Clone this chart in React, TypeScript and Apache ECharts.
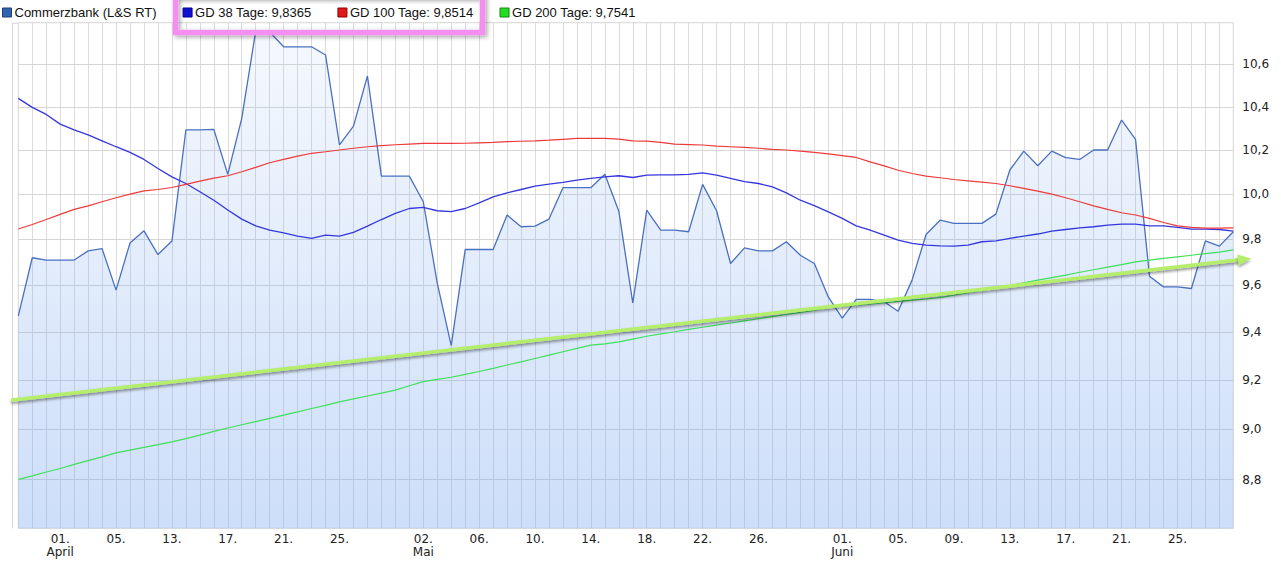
import React, { useEffect, useRef } from "react";
import * as echarts from "echarts";

const FONT = "DejaVu Sans";
const LEGEND_FONT = "Liberation Sans";

// trading-day slots (one category per vertical gridline)
const tickPositions = [3, 7, 11, 15, 19, 23, 29, 33, 37, 41, 45, 49, 53, 59, 63, 67, 71, 75, 79, 83];
const tickLabels = ["01.\nApril", "05.", "13.", "17.", "21.", "25.", "02.\nMai", "06.", "10.", "14.", "18.", "22.", "26.", "01.\nJuni", "05.", "09.", "13.", "17.", "21.", "25."];

const priceValues = [
  9.47, 9.72, 9.71, 9.71, 9.71, 9.75, 9.76, 9.58, 9.785, 9.838,
  9.734, 9.793, 10.293, 10.293, 10.296, 10.09, 10.347, 10.76, 10.755, 10.684,
  10.684, 10.684, 10.645, 10.224, 10.311, 10.545, 10.082, 10.082, 10.082, 9.967,
  9.61, 9.345, 9.756, 9.756, 9.756, 9.908, 9.856, 9.859, 9.89, 10.03,
  10.03, 10.03, 10.091, 9.925, 9.525, 9.93, 9.841, 9.841, 9.834, 10.045,
  9.927, 9.695, 9.763, 9.75, 9.75, 9.79, 9.731, 9.695, 9.551, 9.461,
  9.54, 9.54, 9.53, 9.49, 9.623, 9.822, 9.885, 9.871, 9.871, 9.871,
  9.912, 10.11, 10.196, 10.129, 10.196, 10.166, 10.158, 10.201, 10.201, 10.339,
  10.25, 9.64, 9.594, 9.594, 9.587, 9.794, 9.771, 9.834
];

const gd38Values = [
  10.44, 10.398, 10.365, 10.32, 10.293, 10.27, 10.243, 10.216, 10.19, 10.158,
  10.117, 10.079, 10.049, 10.012, 9.974, 9.93, 9.89, 9.86, 9.841, 9.829,
  9.815, 9.805, 9.819, 9.815, 9.831, 9.859, 9.888, 9.915, 9.937, 9.942,
  9.927, 9.923, 9.937, 9.962, 9.989, 10.007, 10.022, 10.037, 10.046, 10.054,
  10.064, 10.072, 10.079, 10.084, 10.076, 10.087, 10.088, 10.088, 10.09, 10.097,
  10.087, 10.072, 10.057, 10.049, 10.034, 10.007, 9.974, 9.95, 9.922, 9.893,
  9.86, 9.841, 9.819, 9.797, 9.783, 9.775, 9.772, 9.771, 9.775, 9.79,
  9.794, 9.805, 9.815, 9.824, 9.837, 9.844, 9.851, 9.856, 9.863, 9.868,
  9.868, 9.86, 9.86, 9.853, 9.846, 9.846, 9.844, 9.8365
];

const gd100Values = [
  9.846, 9.866, 9.888, 9.911, 9.933, 9.949, 9.967, 9.985, 10.001, 10.016,
  10.022, 10.031, 10.045, 10.06, 10.073, 10.084, 10.102, 10.122, 10.143, 10.158,
  10.173, 10.186, 10.193, 10.201, 10.209, 10.216, 10.221, 10.225, 10.228, 10.231,
  10.231, 10.231, 10.232, 10.234, 10.236, 10.239, 10.241, 10.243, 10.246, 10.25,
  10.254, 10.254, 10.254, 10.251, 10.243, 10.242, 10.236, 10.228, 10.226, 10.224,
  10.219, 10.216, 10.213, 10.209, 10.204, 10.201, 10.196, 10.19, 10.183, 10.175,
  10.167, 10.147, 10.129, 10.109, 10.094, 10.082, 10.075, 10.067, 10.061, 10.055,
  10.049, 10.039, 10.027, 10.015, 10.001, 9.985, 9.967, 9.949, 9.933, 9.918,
  9.908, 9.893, 9.875, 9.86, 9.853, 9.85, 9.85, 9.8514
];

const gd200Values = [
  8.801, 8.815, 8.83, 8.844, 8.86, 8.875, 8.89, 8.906, 8.917, 8.928,
  8.939, 8.95, 8.963, 8.977, 8.992, 9.006, 9.019, 9.032, 9.045, 9.058,
  9.071, 9.085, 9.098, 9.112, 9.124, 9.136, 9.148, 9.16, 9.178, 9.195,
  9.204, 9.213, 9.225, 9.237, 9.25, 9.264, 9.277, 9.291, 9.305, 9.319,
  9.333, 9.347, 9.352, 9.36, 9.372, 9.384, 9.394, 9.403, 9.413, 9.422,
  9.431, 9.44, 9.449, 9.458, 9.467, 9.476, 9.485, 9.494, 9.505, 9.51,
  9.516, 9.521, 9.526, 9.532, 9.537, 9.542, 9.548, 9.558, 9.569, 9.579,
  9.59, 9.6, 9.611, 9.623, 9.634, 9.645, 9.657, 9.668, 9.679, 9.69,
  9.702, 9.71, 9.717, 9.724, 9.731, 9.738, 9.745, 9.7541
];

const yTicks = [8.8, 9.0, 9.2, 9.4, 9.6, 9.8, 10.0, 10.2, 10.4, 10.6];

const seriesNames = [
  "Commerzbank (L&S RT)",
  "GD 38 Tage: 9,8365",
  "GD 100 Tage: 9,8514",
  "GD 200 Tage: 9,7541",
];

const categories = priceValues.map((_, i) => "d" + i);

export default function App() {
  const ref = useRef<HTMLDivElement>(null);

  useEffect(() => {
    if (!ref.current) return;
    const chart = echarts.init(ref.current, null, { renderer: "svg" });
    const labelFor = (i: number) => {
      const k = tickPositions.indexOf(i);
      return k >= 0 ? tickLabels[k] : "";
    };
    const gridLeft = 18.3;
    const gridRight = 1233.3;
    const gridTop = 22.7;
    const gridBottom = 528.3;

    const dx = 1240 - 12.5;
    const dy = 259.8 - 400;
    const len = Math.sqrt(dx * dx + dy * dy);
    const ux = dx / len;
    const uy = dy / len;
    const tipX = 1240 + 11 * ux;
    const tipY = 259.8 + 11 * uy;
    const bx = 1238;
    const by = 259.8 + (1238 - 1240) * (dy / dx);

    const option: any = {
      animation: false,
      backgroundColor: "#ffffff",
      textStyle: { fontFamily: FONT },
      legend: {
        left: 2,
        top: 6,
        padding: 0,
        itemWidth: 9,
        itemHeight: 9,
        itemGap: 26,
        selectedMode: false,
        icon: "rect",
        textStyle: { fontFamily: LEGEND_FONT, fontSize: 13, color: "#111", padding: [0, 0, 0, -2] },
        data: [
          { name: seriesNames[0], itemStyle: { color: "#3163b0", borderColor: "#1d3f7a", borderWidth: 1 } },
          { name: seriesNames[1], itemStyle: { color: "#1010d0", borderColor: "#000090", borderWidth: 1 } },
          { name: seriesNames[2], itemStyle: { color: "#e01818", borderColor: "#900000", borderWidth: 1 } },
          { name: seriesNames[3], itemStyle: { color: "#22dd22", borderColor: "#118811", borderWidth: 1 } },
        ],
      },
      grid: {
        left: gridLeft,
        right: 1281 - gridRight,
        top: gridTop,
        bottom: 563 - gridBottom,
        show: true,
        borderColor: "#d6d6d6",
        borderWidth: 1,
        backgroundColor: "transparent",
      },
      xAxis: {
        type: "category",
        data: categories,
        boundaryGap: false,
        axisLine: { show: false },
        axisTick: { show: false },
        axisLabel: {
          interval: (i: number) => tickPositions.indexOf(i) >= 0,
          formatter: (_v: string, i: number) => labelFor(i),
          fontFamily: FONT,
          fontSize: 12,
          color: "#222",
          margin: 4,
          lineHeight: 13,
        },
        splitLine: { show: true, interval: 0, lineStyle: { color: "#dcdcdc", width: 1 } },
      },
      yAxis: {
        type: "log",
        logBase: 10,
        min: 8.61,
        max: 10.8,
        position: "right",
        axisLine: { show: false },
        axisTick: { show: false },
        axisLabel: { show: false },
        splitLine: { show: false },
      },
      series: [
        {
          name: seriesNames[0],
          type: "line",
          data: priceValues,
          symbol: "none",
          z: 2,
          lineStyle: { color: "#4a70c2", width: 1.3 },
          itemStyle: { color: "#3163b0" },
          areaStyle: {
            color: new echarts.graphic.LinearGradient(0, 0, 0, 1, [
              { offset: 0, color: "rgba(117,165,239,0.10)" },
              { offset: 1, color: "rgba(117,165,239,0.52)" },
            ]),
          },
          markLine: {
            silent: true,
            symbol: "none",
            z: 1,
            lineStyle: { color: "#d6d6d6", width: 1, type: "solid" },
            label: {
              show: true,
              position: "end",
              distance: 9,
              fontFamily: FONT,
              fontSize: 12,
              color: "#222",
              formatter: (p: any) => Number(p.value).toFixed(1).replace(".", ","),
            },
            emphasis: { disabled: true },
            data: yTicks.map((v) => ({ yAxis: v })),
          },
        },
        {
          name: seriesNames[1],
          type: "line",
          data: gd38Values,
          symbol: "none",
          z: 3,
          lineStyle: { color: "#3636e0", width: 1.3 },
          itemStyle: { color: "#1010d0" },
        },
        {
          name: seriesNames[2],
          type: "line",
          data: gd100Values,
          symbol: "none",
          z: 3,
          lineStyle: { color: "#ee3a3a", width: 1.2 },
          itemStyle: { color: "#e01818" },
        },
        {
          name: seriesNames[3],
          type: "line",
          data: gd200Values,
          symbol: "none",
          z: 3,
          lineStyle: { color: "#3ee05c", width: 1.2 },
          itemStyle: { color: "#22dd22" },
        },
      ],
      graphic: [
        // extension of the plot frame on the left
        {
          type: "line",
          silent: true,
          shape: { x1: 12.5, y1: gridTop, x2: 12.5, y2: gridBottom },
          style: { stroke: "#d6d6d6", lineWidth: 1 },
        },
        {
          type: "line",
          silent: true,
          shape: { x1: 12.5, y1: gridTop + 0.5, x2: gridLeft, y2: gridTop + 0.5 },
          style: { stroke: "#d6d6d6", lineWidth: 1 },
        },
        // trend arrow annotation
        {
          type: "line",
          silent: true,
          z: 50,
          shape: { x1: 12.5, y1: 400, x2: 1240, y2: 259.8 },
          style: {
            stroke: "#b4ee6a",
            lineWidth: 3.5,
            lineCap: "round",
            shadowColor: "rgba(0,0,0,0.45)",
            shadowBlur: 3,
            shadowOffsetY: 2,
          },
        },
        {
          type: "polygon",
          silent: true,
          z: 51,
          shape: {
            points: [
              [tipX, tipY],
              [bx + 5.5 * -uy, by + 5.5 * ux],
              [bx - 5.5 * -uy, by - 5.5 * ux],
            ],
          },
          style: {
            fill: "#b4ee6a",
            shadowColor: "rgba(0,0,0,0.4)",
            shadowBlur: 3,
            shadowOffsetY: 2,
          },
        },
        // highlight box around the moving-average legend entries
        {
          type: "rect",
          silent: true,
          z: 60,
          shape: { x: 175.5, y: -4, width: 307, height: 36.5 },
          style: {
            fill: "none",
            stroke: "#f48ef0",
            lineWidth: 5.5,
            shadowColor: "rgba(0,0,0,0.35)",
            shadowBlur: 4,
            shadowOffsetX: 2,
            shadowOffsetY: 2,
          },
        },
      ],
    };

    chart.setOption(option);
    return () => chart.dispose();
  }, []);

  return (
    <div
      ref={ref}
      style={{ position: "fixed", left: 0, top: 0, width: 1281, height: 563, background: "#fff" }}
    />
  );
}
